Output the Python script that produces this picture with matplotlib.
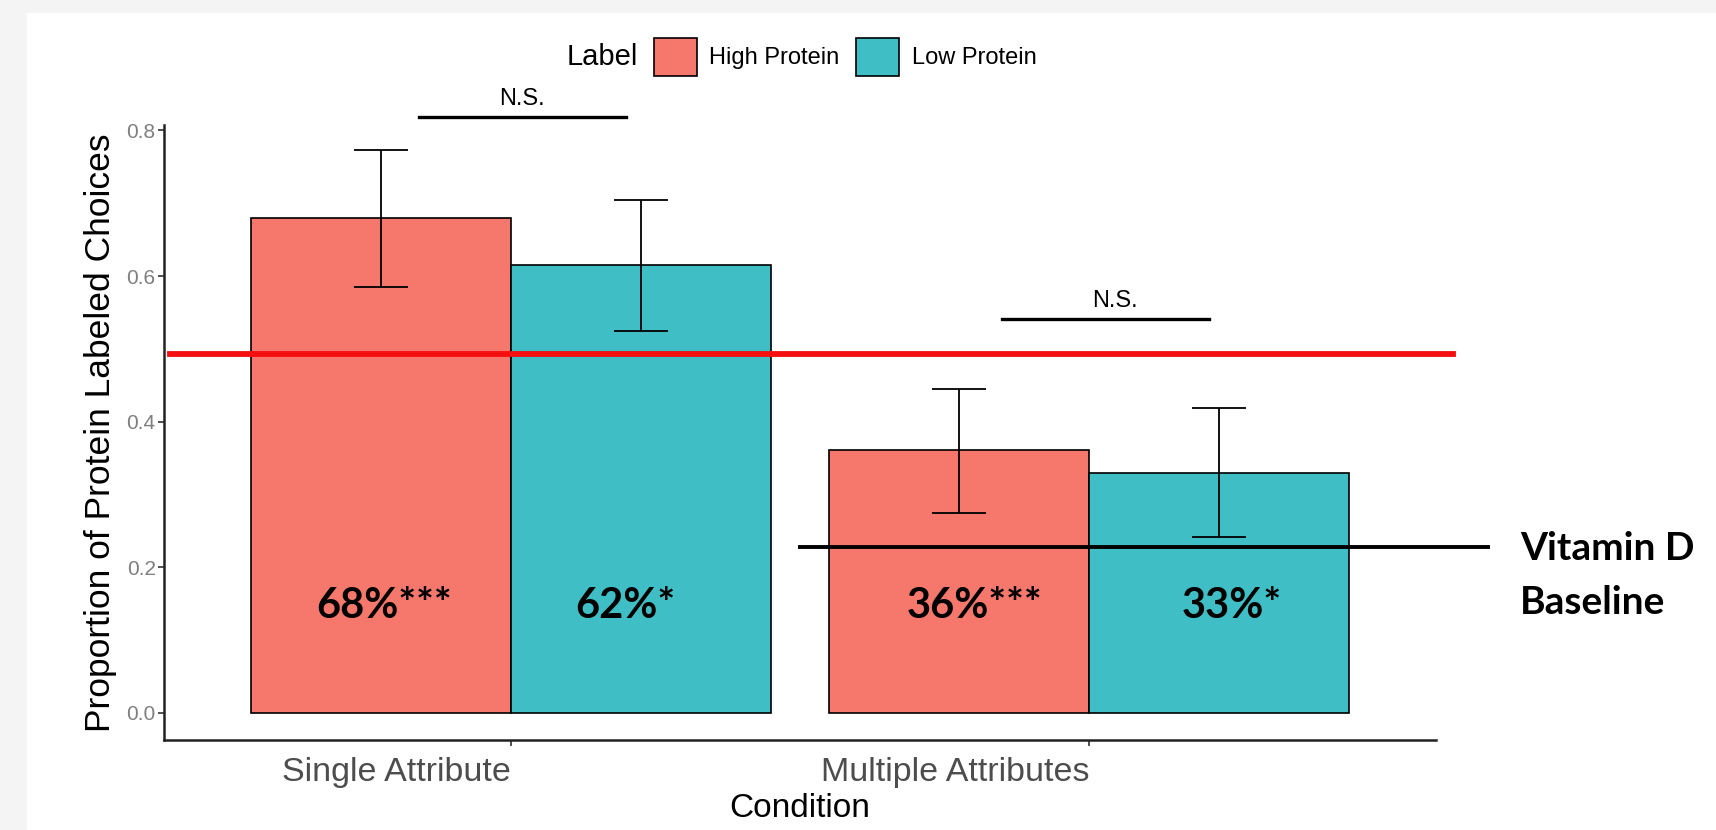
import numpy as np
import matplotlib
matplotlib.use('Agg')
import matplotlib.pyplot as plt
from matplotlib.patches import Rectangle, Patch

# data
conditions = ['Single Attribute', 'Multiple Attributes']
labels = ['High Protein', 'Low Protein']
high_mean = [0.680, 0.361]
low_mean = [0.615, 0.329]
high_lo = [0.585, 0.275]
high_hi = [0.773, 0.445]
low_lo = [0.525, 0.241]
low_hi = [0.705, 0.418]
high_text = ['68%***', '36%***']
low_text = ['62%*', '33%*']
yticks = [0.0, 0.2, 0.4, 0.6, 0.8]

chance_level = 0.493      # red line
vitd_baseline = 0.227     # black baseline
ns_levels = [0.818, 0.541]

colors = ['#F6776C', '#3FBFC5']

plt.rcParams['font.family'] = ['Liberation Sans', 'DejaVu Sans']

fig = plt.figure(figsize=(17.16, 8.30), dpi=100, facecolor='#f4f4f4')
fig.patches.append(Rectangle((27/1716, 0), 1, 1 - 13/830, transform=fig.transFigure,
                             facecolor='white', edgecolor='none', zorder=-10))
ax = fig.add_axes([164/1716, 1 - 740/830, (1436-164)/1716, (740-125)/830])
ax.set_facecolor('none')

x = np.arange(1, len(conditions) + 1)
w = 0.45
xh = x - w/2
xl = x + w/2

ax.bar(xh, high_mean, width=w, color=colors[0], edgecolor='black', linewidth=1.2, zorder=2)
ax.bar(xl, low_mean, width=w, color=colors[1], edgecolor='black', linewidth=1.2, zorder=2)

hm = np.array(high_mean); lm = np.array(low_mean)
ax.errorbar(xh, hm, yerr=[hm - np.array(high_lo), np.array(high_hi) - hm], fmt='none',
            ecolor='black', elinewidth=1.3, capsize=19.5, capthick=1.3, zorder=3)
ax.errorbar(xl, lm, yerr=[lm - np.array(low_lo), np.array(low_hi) - lm], fmt='none',
            ecolor='black', elinewidth=1.3, capsize=19.5, capthick=1.3, zorder=3)

# percentage labels inside bars (slightly nudged as in the original slide)
high_nudge = [0.005, 0.027]
low_nudge = [-0.027, 0.022]
for i in range(len(conditions)):
    ax.text(xh[i] + high_nudge[i], 0.147, high_text[i], ha='center', va='center', fontsize=30,
            fontweight='bold', family='Lato', zorder=5)
    ax.text(xl[i] + low_nudge[i], 0.147, low_text[i], ha='center', va='center', fontsize=30,
            fontweight='bold', family='Lato', zorder=5)

# reference lines added on top
ax.plot([0.41, 2.63], [chance_level]*2, color='#f50f0f', lw=4.2, clip_on=False, zorder=6)
ax.plot([1.50, 2.69], [vitd_baseline]*2, color='black', lw=2.8, clip_on=False, zorder=6)
ax.text(2.745, 0.189, 'Vitamin D\nBaseline', ha='left', va='center',
        fontsize=28, fontweight='bold', family='Lato', linespacing=1.65, clip_on=False)

# N.S. brackets
ns_x = [(0.841, 1.199), (1.850, 2.208)]
ns_text_x = [1.019, 2.045]
for i, lev in enumerate(ns_levels):
    ax.plot(ns_x[i], [lev]*2, color='black', lw=2.4, clip_on=False, zorder=6)
    ax.text(ns_text_x[i], lev + 0.025, 'N.S.', ha='center', va='center', fontsize=17, clip_on=False)

ax.set_xlim(0.4, 2.6)
ax.set_ylim(-0.0376, 0.8075)
ax.set_xticks(x)
ax.set_xticklabels(conditions, ha='right', fontsize=24.5, color='#4d4d4d')
ax.set_yticks(yticks)
ax.set_yticklabels([f'{v:.1f}' for v in yticks], fontsize=15, color='#7f7f7f')
ax.tick_params(axis='both', length=4.5, width=1.2, color='#333333')
ax.tick_params(axis='x', pad=8)
ax.tick_params(axis='y', pad=1.5)

for s in ['top', 'right']:
    ax.spines[s].set_visible(False)
for s in ['left', 'bottom']:
    ax.spines[s].set_linewidth(1.8)
    ax.spines[s].set_color('#222222')

ax.set_xlabel('Condition', fontsize=24, labelpad=3)
ax.set_ylabel('Proportion of Protein Labeled Choices', fontsize=25.5, labelpad=7)

# legend with title on the left, ggplot style
handles = [Patch(facecolor=c, edgecolor='black', linewidth=1.2) for c in colors]
fig.text(638/1716, 1 - 57/830, 'Label', ha='right', va='center', fontsize=21)
fig.legend(handles, labels, loc='center left', bbox_to_anchor=(654/1716, 1 - 57/830),
           ncol=2, frameon=False, fontsize=17, handlelength=1.8, handleheight=2.1,
           handletextpad=0.55, columnspacing=0.7, borderpad=0, borderaxespad=0)

fig.savefig('out.png', dpi=100, facecolor=fig.get_facecolor())
